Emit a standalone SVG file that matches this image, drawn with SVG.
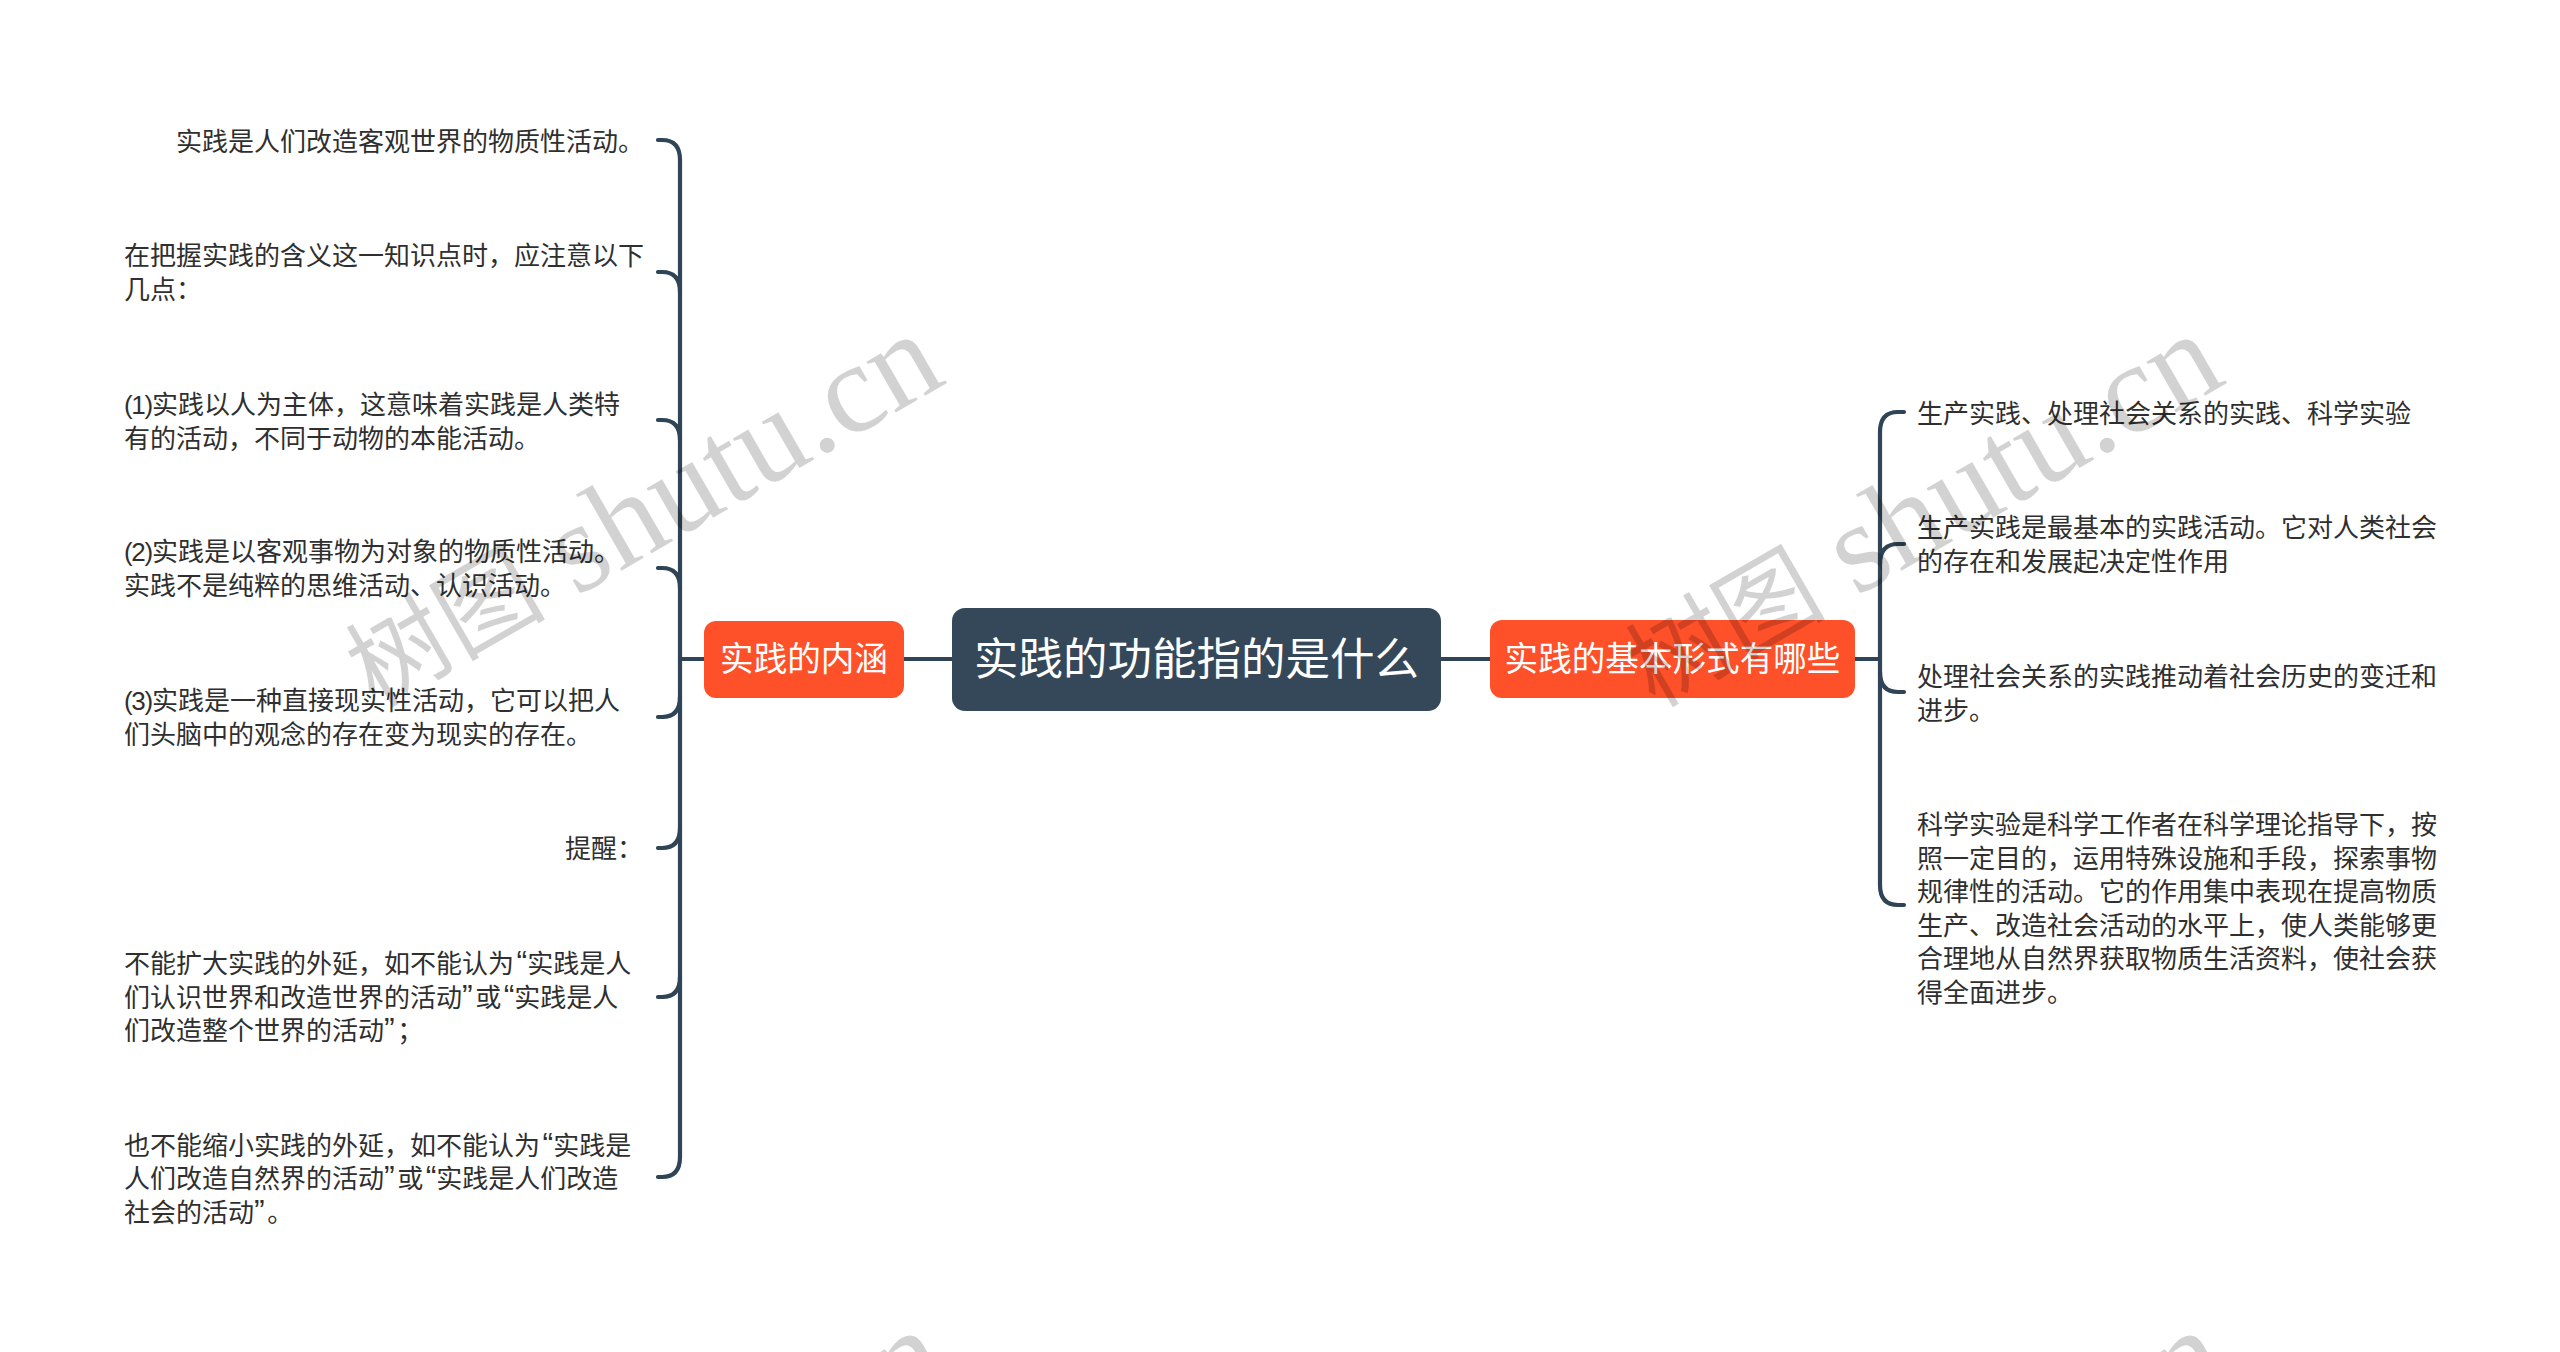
<svg xmlns="http://www.w3.org/2000/svg" width="2560" height="1352" viewBox="0 0 2560 1352">
<style>
text{font-family:"Liberation Sans","Noto Sans CJK SC",sans-serif}
.leaf{font-size:26px;fill:#2f2f2f}
.lq{font-size:32px}
.rq{font-size:32px;letter-spacing:2.5px}
.num{letter-spacing:-1.3px}
.sub{font-size:33.6px;fill:#fff;text-anchor:middle}
.root{font-size:44.5px;fill:#fff;text-anchor:middle}
.conn{fill:none;stroke:#2f4456;stroke-width:4.2;stroke-linecap:round}
.wm{font-family:"Liberation Serif","Noto Sans CJK SC",serif;font-size:128px;fill:#000;fill-opacity:.175}
.wmc{font-size:100px;font-family:"Noto Sans CJK SC",serif}
</style>
<rect width="2560" height="1352" fill="#fff"/>
<g id="connectors" class="conn">
<path d="M903 659H952M1441 659H1490M1855 659H1880"/>
<path d="M680 659H704"/>
<path d="M658 140H662Q680 140 680 160V1157Q680 1177 662 1177H658"/>
<path d="M658 272H662Q680 272 680 292M658 420H662Q680 420 680 440M658 568H662Q680 568 680 588"/>
<path d="M658 717H662Q680 717 680 697M658 848H662Q680 848 680 828M658 997H662Q680 997 680 977"/>
<path d="M1904 412H1898Q1880 412 1880 432V885Q1880 905 1898 905H1904"/>
<path d="M1904 544H1898Q1880 544 1880 564M1904 692H1898Q1880 692 1880 672"/>
</g>
<g id="root"><rect x="952" y="608" width="489" height="103" rx="13" fill="#35485a"/><text class="root" x="1196.5" y="675">实践的功能指的是什么</text></g>
<g id="left-branch"><rect x="704" y="621" width="200" height="77" rx="12" fill="#fe5029"/><text class="sub" x="804" y="671">实践的内涵</text></g>
<g id="right-branch"><rect x="1490" y="620" width="365" height="78" rx="12" fill="#fe5029"/><text class="sub" x="1672.5" y="671">实践的基本形式有哪些</text></g>
<g id="l1"><text class="leaf" x="176" y="150.5">实践是人们改造客观世界的物质性活动。</text></g>
<g id="l2"><text class="leaf" x="124" y="265">在把握实践的含义这一知识点时，应注意以下</text><text class="leaf" x="124" y="298.5">几点：</text></g>
<g id="l3"><text class="leaf" x="124" y="414"><tspan class="num">(1)</tspan>实践以人为主体，这意味着实践是人类特</text><text class="leaf" x="124" y="447.5">有的活动，不同于动物的本能活动。</text></g>
<g id="l4"><text class="leaf" x="124" y="561"><tspan class="num">(2)</tspan>实践是以客观事物为对象的物质性活动。</text><text class="leaf" x="124" y="594.5">实践不是纯粹的思维活动、认识活动。</text></g>
<g id="l5"><text class="leaf" x="124" y="710"><tspan class="num">(3)</tspan>实践是一种直接现实性活动，它可以把人</text><text class="leaf" x="124" y="743.5">们头脑中的观念的存在变为现实的存在。</text></g>
<g id="l6"><text class="leaf" x="565" y="858">提醒：</text></g>
<g id="l7"><text class="leaf" x="124" y="973">不能扩大实践的外延，如不能认为<tspan class="lq" dx="2.5">“</tspan>实践是人</text><text class="leaf" x="124" y="1006.5">们认识世界和改造世界的活动<tspan class="rq">”</tspan>或<tspan class="lq" dx="2.5">“</tspan>实践是人</text><text class="leaf" x="124" y="1040">们改造整个世界的活动<tspan class="rq">”</tspan>；</text></g>
<g id="l8"><text class="leaf" x="124" y="1154.5">也不能缩小实践的外延，如不能认为<tspan class="lq" dx="2.5">“</tspan>实践是</text><text class="leaf" x="124" y="1188">人们改造自然界的活动<tspan class="rq">”</tspan>或<tspan class="lq" dx="2.5">“</tspan>实践是人们改造</text><text class="leaf" x="124" y="1221.5">社会的活动<tspan class="rq">”</tspan>。</text></g>
<g id="r1"><text class="leaf" x="1917" y="423">生产实践、处理社会关系的实践、科学实验</text></g>
<g id="r2"><text class="leaf" x="1917" y="537">生产实践是最基本的实践活动。它对人类社会</text><text class="leaf" x="1917" y="570.5">的存在和发展起决定性作用</text></g>
<g id="r3"><text class="leaf" x="1917" y="686">处理社会关系的实践推动着社会历史的变迁和</text><text class="leaf" x="1917" y="719.5">进步。</text></g>
<g id="r4"><text class="leaf" x="1917" y="834">科学实验是科学工作者在科学理论指导下，按</text><text class="leaf" x="1917" y="867.5">照一定目的，运用特殊设施和手段，探索事物</text><text class="leaf" x="1917" y="901">规律性的活动。它的作用集中表现在提高物质</text><text class="leaf" x="1917" y="934.5">生产、改造社会活动的水平上，使人类能够更</text><text class="leaf" x="1917" y="968">合理地从自然界获取物质生活资料，使社会获</text><text class="leaf" x="1917" y="1001.5">得全面进步。</text></g>
<g id="watermarks">
<text class="wm" transform="translate(576 597) rotate(-30)"><tspan class="wmc" x="-230" y="-4">树图</tspan> <tspan x="0" y="0">shutu.cn</tspan></text>
<text class="wm" transform="translate(1856 597) rotate(-30)"><tspan class="wmc" x="-230" y="-4">树图</tspan> <tspan x="0" y="0">shutu.cn</tspan></text>
<text class="wm" transform="translate(580 1593) rotate(-30)"><tspan class="wmc" x="-230" y="-4">树图</tspan> <tspan x="0" y="0">shutu.cn</tspan></text>
<text class="wm" transform="translate(1860 1593) rotate(-30)"><tspan class="wmc" x="-230" y="-4">树图</tspan> <tspan x="0" y="0">shutu.cn</tspan></text>
</g>
</svg>
